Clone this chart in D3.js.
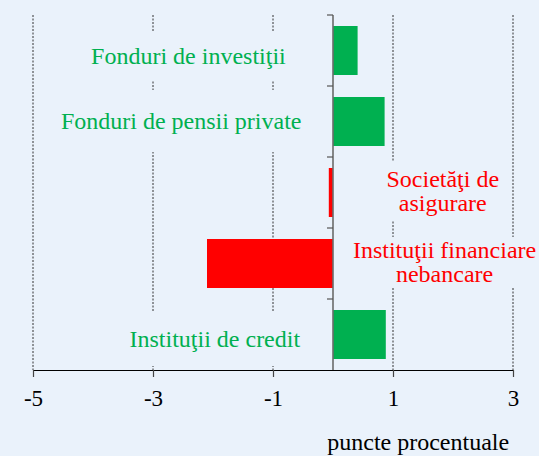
<!DOCTYPE html>
<html><head><meta charset="utf-8">
<script src="https://cdn.jsdelivr.net/npm/d3@7"></script>
<style>html,body{margin:0;padding:0;background:#eaf2fb;} svg{display:block}</style>
</head><body><svg id="c" width="539" height="456"></svg>
<script>
// ---- data ----
const categories = ["Fonduri de investiţii", "Fonduri de pensii private", "Societăţi de asigurare", "Instituţii financiare nebancare", "Instituţii de credit"];
const values = [0.41, 0.86, -0.07, -2.1, 0.88];
const barColors = ["#00b050", "#00b050", "#ff0000", "#ff0000", "#00b050"];
const xTicks = [-5, -3, -1, 1, 3];
const xTitle = "puncte procentuale";
const labelLines = [["Fonduri de investiţii"], ["Fonduri de pensii private"], ["Societăţi de", "asigurare"], ["Instituţii financiare", "nebancare"], ["Instituţii de credit"]];
// annotation layout (label centre in data units, baseline offset in px, box padding)
const labelX = [-2.41, -2.53, 1.83, 1.86, -1.97];
const labelDy = [13.5, 7.5, -5.5, -5.5, 12.5];
const labelPadY = [12, 18, 4, 0, 14];

const W = 539, H = 456;
const m = {top: 15, right: 26, bottom: 86, left: 33};
const bg = "#eaf2fb";
const font = "'Liberation Serif', 'Times New Roman', serif";

const svg = d3.select("#c");
svg.append("rect").attr("width", W).attr("height", H).attr("fill", bg);

const x = d3.scaleLinear().domain([-5, 3]).range([m.left, W - m.right]);
const y = d3.scaleBand().domain(categories).range([m.top, H - m.bottom]).paddingInner(0.31).paddingOuter(0.155);

// grid lines
svg.append("g").selectAll("line").data(xTicks).join("line")
  .attr("x1", d => x(d)).attr("x2", d => x(d))
  .attr("y1", m.top).attr("y2", H - m.bottom)
  .attr("stroke", "#333").attr("stroke-width", 1).attr("stroke-dasharray", "2,1.5");

// label groups (background boxes hide grid lines)
const lg = svg.append("g");
const labels = categories.map((c, i) => {
  const g = lg.append("g");
  const cx = x(labelX[i]);
  const by = y(c) + y.bandwidth() / 2 + labelDy[i];
  const t = g.append("text")
    .attr("text-anchor", "middle")
    .attr("font-family", font).attr("font-size", 24)
    .attr("fill", barColors[i]);
  labelLines[i].forEach((ln, j) => {
    t.append("tspan").attr("x", cx).attr("y", by + j * 24).text(ln);
  });
  const bb = t.node().getBBox();
  g.insert("rect", "text")
    .attr("x", bb.x - 6).attr("y", bb.y - labelPadY[i])
    .attr("width", bb.width + 12).attr("height", bb.height + 2 * labelPadY[i])
    .attr("fill", bg);
  return g;
});

// bars
svg.append("g").selectAll("rect").data(categories).join("rect")
  .attr("x", (d, i) => x(Math.min(0, values[i])))
  .attr("width", (d, i) => Math.abs(x(values[i]) - x(0)))
  .attr("y", d => y(d))
  .attr("height", y.bandwidth())
  .attr("fill", (d, i) => barColors[i]);

// zero (category) axis
const x0 = x(0);
svg.append("line").attr("x1", x0).attr("x2", x0).attr("y1", m.top).attr("y2", H - m.bottom)
  .attr("stroke", "#6b6b6b").attr("stroke-width", 1.6);
const gap = (y.step() - y.bandwidth()) / 2;
svg.append("g").selectAll("line").data(categories).join("line")
  .attr("x1", x0 - 6).attr("x2", x0)
  .attr("y1", d => y(d) - gap).attr("y2", d => y(d) - gap)
  .attr("stroke", "#555").attr("stroke-width", 1.2);

// x axis
const xa = svg.append("g").attr("transform", `translate(0,${H - m.bottom})`)
  .call(d3.axisBottom(x).tickValues(xTicks).tickSize(7).tickSizeOuter(0).tickPadding(13).tickFormat(d => String(d)));
xa.select(".domain").attr("stroke", "#000").attr("stroke-width", 1.2);
xa.selectAll(".tick line").attr("stroke", "#444").attr("stroke-width", 1.2);
xa.selectAll(".tick text").attr("font-family", font).attr("font-size", 23).attr("fill", "#000");

svg.append("text").attr("x", x(1.42)).attr("y", 450)
  .attr("text-anchor", "middle").attr("font-family", font).attr("font-size", 24)
  .attr("fill", "#000").text(xTitle);
</script></body></html>
